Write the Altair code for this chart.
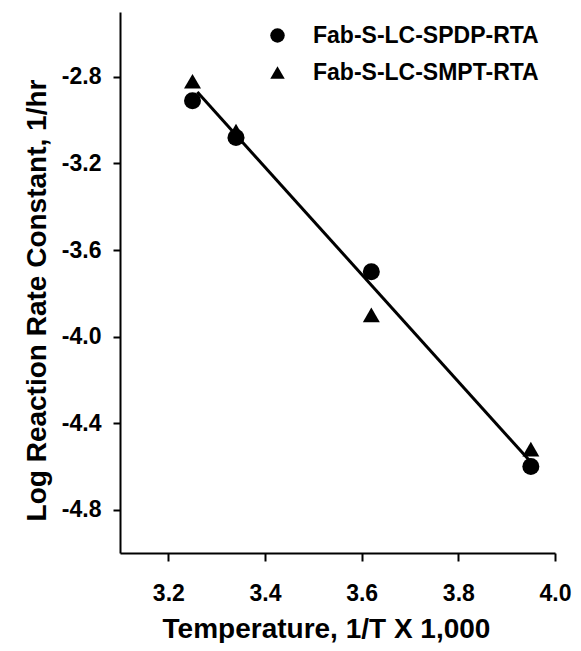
import altair as alt
import pandas as pd

# ---- data ----
series_names = ["Fab-S-LC-SPDP-RTA", "Fab-S-LC-SMPT-RTA"]
x_temp = [3.25, 3.34, 3.62, 3.95]
spdp_y = [-2.91, -3.08, -3.70, -4.60]
smpt_y = [-2.82, -3.05, -3.90, -4.52]
fit_x = [3.26, 3.95]
fit_y = [-2.87, -4.58]
x_ticks = [3.2, 3.4, 3.6, 3.8, 4.0]
y_ticks = [-2.8, -3.2, -3.6, -4.0, -4.4, -4.8]

# triangles first so circles draw on top
pts = pd.DataFrame({
    "x": x_temp + x_temp,
    "y": smpt_y + spdp_y,
    "series": [series_names[1]] * 4 + [series_names[0]] * 4,
})
fit = pd.DataFrame({"x": fit_x, "y": fit_y})

FONT = "Liberation Sans"
xscale = alt.Scale(domain=[3.1, 4.0], nice=False, zero=False)
yscale = alt.Scale(domain=[-5.0, -2.5], nice=False, zero=False)

xaxis = alt.Axis(values=x_ticks, format=".1f", grid=False, labelFlush=False,
                 labelFont=FONT, labelFontWeight="bold", labelFontSize=23, labelColor="black",
                 labelPadding=21, tickSize=8, tickWidth=2, tickColor="black",
                 domainColor="black", domainWidth=2,
                 titleFont=FONT, titleFontWeight="bold", titleFontSize=28, titleColor="black",
                 titlePadding=10, titleX=206)
yaxis = alt.Axis(values=y_ticks, format=".1f", grid=False, labelFlush=False,
                 labelExpr="replace(datum.label, '\u2212', '-')",
                 labelFont=FONT, labelFontWeight="bold", labelFontSize=23, labelColor="black",
                 labelPadding=12, tickSize=7, tickWidth=2, tickColor="black",
                 domainColor="black", domainWidth=2,
                 titleFont=FONT, titleFontWeight="bold", titleFontSize=28, titleColor="black",
                 titlePadding=10, titleY=288)

line = alt.Chart(fit).mark_line(color="black", strokeWidth=3).encode(
    x=alt.X("x:Q", scale=xscale, axis=xaxis, title="Temperature, 1/T X 1,000"),
    y=alt.Y("y:Q", scale=yscale, axis=yaxis, title="Log Reaction Rate Constant, 1/hr"),
)

points = alt.Chart(pts).mark_point(filled=True, opacity=1, color="black", size=289).encode(
    x=alt.X("x:Q", scale=xscale),
    y=alt.Y("y:Q", scale=yscale),
    shape=alt.Shape(
        "series:N",
        scale=alt.Scale(domain=series_names, range=["circle", "triangle-up"]),
        legend=alt.Legend(title=None, orient="none", legendX=146, legendY=12,
                          labelFont=FONT, labelFontWeight="bold", labelFontSize=23,
                          labelColor="black", labelLimit=0, symbolSize=210,
                          symbolFillColor="black", symbolStrokeColor="black",
                          symbolOpacity=1, labelOffset=24, rowPadding=13, padding=0),
    ),
)

chart = alt.layer(line, points).properties(
    width=435, height=541,
    autosize=alt.AutoSizeParams(type="none"),
    padding={"left": 112, "top": 4, "right": 18, "bottom": 90},
).configure_view(stroke=None)

chart.save("out.html", embed_options={"renderer": "svg", "actions": False})
